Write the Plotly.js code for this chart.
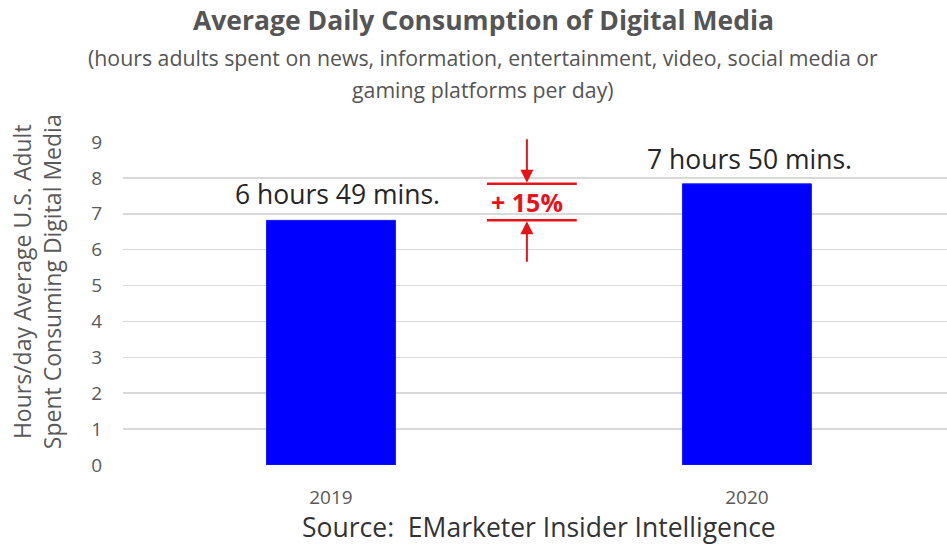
<!DOCTYPE html>
<html>
<head>
<meta charset="utf-8">
<script src="https://cdn.plot.ly/plotly-3.0.1.min.js"></script>
<style>html,body{margin:0;padding:0;background:#fff;}#chart{width:947px;height:546px;}</style>
</head>
<body>
<div id="chart"></div>
<script>
const years = ['2019', '2020'];
const hours = [6 + 49/60, 7 + 50/60];
const barLabels = ['6 hours 49 mins.', '7 hours 50 mins.'];
const changeLabel = '+ 15%';
const yTicks = [0, 1, 2, 3, 4, 5, 6, 7, 8, 9];

const red = '#e8121b';
const grey = '#595959';

const trace = {
  type: 'bar',
  x: [0, 1],
  y: hours,
  width: 0.31,
  marker: {color: '#0000ff', line: {color: '#1a1aff', width: 1}},
  hoverinfo: 'skip'
};

const annX = 0.471;
const annotations = [
  {xref: 'x', yref: 'y', x: 0.015, y: hours[0], yanchor: 'middle', yshift: 26, text: barLabels[0], showarrow: false,
   font: {family: 'Open Sans', size: 26.5, color: '#262626'}},
  {xref: 'x', yref: 'y', x: 1.005, y: hours[1], yanchor: 'middle', yshift: 25, text: barLabels[1], showarrow: false,
   font: {family: 'Open Sans', size: 26.5, color: '#262626'}},
  {xref: 'x', yref: 'y', x: annX, y: (hours[0] + hours[1]) / 2, text: '<b>' + changeLabel + '</b>', showarrow: false,
   font: {family: 'Open Sans', size: 25, color: red}},
  {xref: 'x', yref: 'y', x: annX, y: hours[1], ax: 0, ay: -46, text: '', showarrow: true,
   arrowhead: 2, arrowsize: 1.3, arrowwidth: 2, arrowcolor: red, standoff: 1},
  {xref: 'x', yref: 'y', x: annX, y: hours[0], ax: 0, ay: 43, text: '', showarrow: true,
   arrowhead: 2, arrowsize: 1.3, arrowwidth: 2, arrowcolor: red, standoff: 1},
  {xref: 'paper', yref: 'paper', x: -0.104, y: 0.567, xanchor: 'center', yanchor: 'middle', textangle: -90,
   text: 'Hours/day Average U.S. Adult<br>Spent Consuming Digital Media', showarrow: false, align: 'center',
   font: {family: 'Open Sans', size: 23, color: grey}},
  {xref: 'paper', yref: 'paper', x: 0.505, y: -0.193, xanchor: 'center', yanchor: 'middle',
   text: 'Source:  EMarketer Insider Intelligence', showarrow: false,
   font: {family: 'Open Sans', size: 26.5, color: '#333'}},
  {xref: 'paper', yref: 'paper', x: 0.437, y: 1.378, xanchor: 'center', yanchor: 'middle',
   text: '<b>Average Daily Consumption of Digital Media</b>', showarrow: false,
   font: {family: 'Open Sans', size: 26.5, color: '#555'}},
  {xref: 'paper', yref: 'paper', x: 0.437, y: 1.263, xanchor: 'center', yanchor: 'middle',
   text: '(hours adults spent on news, information, entertainment, video, social media or',
   showarrow: false, font: {family: 'Open Sans', size: 21.3, color: '#555'}},
  {xref: 'paper', yref: 'paper', x: 0.437, y: 1.164, xanchor: 'center', yanchor: 'middle',
   text: 'gaming platforms per day)',
   showarrow: false, font: {family: 'Open Sans', size: 21.3, color: '#555'}}
];

const shapes = [
  {type: 'line', xref: 'x', yref: 'y', x0: 0.375, x1: 0.591, y0: hours[1], y1: hours[1], line: {color: red, width: 2.5}},
  {type: 'line', xref: 'x', yref: 'y', x0: 0.375, x1: 0.591, y0: hours[0], y1: hours[0], line: {color: red, width: 2.5}}
];

const layout = {
  width: 947, height: 546,
  margin: {l: 123, r: 0, t: 142, b: 81, pad: 0},
  paper_bgcolor: '#fff', plot_bgcolor: '#fff',
  showlegend: false,
  xaxis: {
    range: [-0.5, 1.481], tickvals: [0, 1], ticktext: years, showgrid: false, zeroline: false,
    showline: false, ticks: '', ticklabelstandoff: 19,
    tickfont: {family: 'Open Sans', size: 19, color: grey}, fixedrange: true
  },
  yaxis: {
    range: [0, 9], tickvals: yTicks, showgrid: true, gridcolor: '#d9d9d9', gridwidth: 1.5,
    zeroline: false, showline: false, ticks: '', ticklabelstandoff: 20,
    tickfont: {family: 'Open Sans', size: 19, color: grey}, fixedrange: true
  },
  shapes: shapes,
  annotations: annotations
};

Plotly.newPlot('chart', [trace], layout, {displayModeBar: false, staticPlot: true});
</script>
</body>
</html>
